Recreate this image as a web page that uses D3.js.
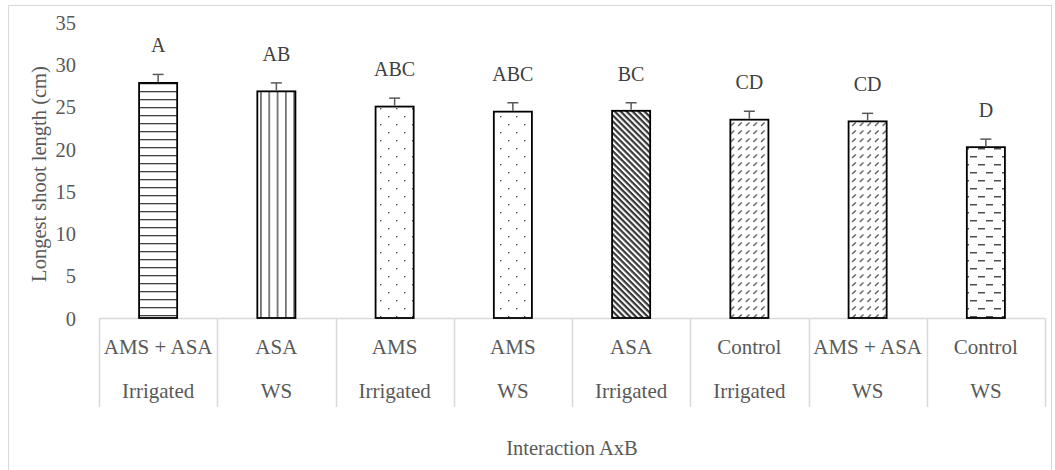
<!DOCTYPE html>
<html>
<head>
<meta charset="utf-8">
<script src="https://cdn.jsdelivr.net/npm/d3@7"></script>
<style>
  html, body { margin: 0; padding: 0; background: #fff; }
  svg { display: block; }
  svg text { font-family: "Liberation Serif", "Times New Roman", "DejaVu Serif", serif; }
</style>
</head>
<body>
<svg id="chart" width="1055" height="470"></svg>
<script>
// ---- data ----
const treatments = ["AMS + ASA", "ASA", "AMS", "AMS", "ASA", "Control", "AMS + ASA", "Control"];
const water = ["Irrigated", "WS", "Irrigated", "WS", "Irrigated", "Irrigated", "WS", "WS"];
const values = [27.8, 26.8, 25.0, 24.4, 24.5, 23.45, 23.25, 20.2];
const errors = [1.0, 1.0, 1.0, 1.05, 0.95, 1.0, 0.95, 0.95];
const letters = ["A", "AB", "ABC", "ABC", "BC", "CD", "CD", "D"];
const patterns = ["hlines", "vlines", "dots", "dots", "diag", "dashdiag", "dashdiag", "hdash"];
const yTicks = [0, 5, 10, 15, 20, 25, 30, 35];
const yTitle = "Longest shoot length (cm)";
const xTitle = "Interaction AxB";

(function () {
const svg = d3.select("#chart");
const pLeft = 99, pRight = 1045, pTop = 22, pBottom = 318;
const FONT = "'Liberation Serif', 'Times New Roman', 'DejaVu Serif', serif";

// outer chart border
svg.append("rect").attr("x", 8.5).attr("y", 5.5).attr("width", 1043).attr("height", 475)
  .attr("fill", "none").attr("stroke", "#d9d9d9").attr("stroke-width", 1);

// patterns
const defs = svg.append("defs");
const pc = "#404040";
{
  const p = defs.append("pattern").attr("id", "hlines").attr("patternUnits", "userSpaceOnUse")
    .attr("width", 8).attr("height", 8);
  p.append("rect").attr("x", 0).attr("y", 3).attr("width", 8).attr("height", 1.3).attr("fill", pc);
}
{
  const p = defs.append("pattern").attr("id", "vlines").attr("patternUnits", "userSpaceOnUse")
    .attr("width", 8.3).attr("height", 8);
  p.append("rect").attr("x", 3).attr("y", 0).attr("width", 1.3).attr("height", 8).attr("fill", pc);
}
{
  const p = defs.append("pattern").attr("id", "dots").attr("patternUnits", "userSpaceOnUse")
    .attr("width", 16).attr("height", 16);
  p.append("rect").attr("x", 4).attr("y", 4).attr("width", 1.4).attr("height", 1.4).attr("fill", "#505050");
  p.append("rect").attr("x", 12).attr("y", 12).attr("width", 1.4).attr("height", 1.4).attr("fill", "#505050");
}
{
  const p = defs.append("pattern").attr("id", "diag").attr("patternUnits", "userSpaceOnUse")
    .attr("width", 4.2).attr("height", 4.2).attr("patternTransform", "rotate(45)");
  p.append("rect").attr("x", 0).attr("y", 0).attr("width", 4.2).attr("height", 2.2).attr("fill", "#383838");
}
{
  const p = defs.append("pattern").attr("id", "dashdiag").attr("patternUnits", "userSpaceOnUse")
    .attr("width", 7.6).attr("height", 8);
  p.append("line").attr("x1", 1).attr("y1", 6).attr("x2", 4.5).attr("y2", 2.5)
    .attr("stroke", "#505050").attr("stroke-width", 1.2);
}
{
  const p = defs.append("pattern").attr("id", "hdash").attr("patternUnits", "userSpaceOnUse")
    .attr("width", 16).attr("height", 16);
  p.append("rect").attr("x", 2).attr("y", 4).attr("width", 7).attr("height", 1.5).attr("fill", "#505050");
  p.append("rect").attr("x", 10).attr("y", 12).attr("width", 7).attr("height", 1.5).attr("fill", "#505050");
  p.append("rect").attr("x", -6).attr("y", 12).attr("width", 7).attr("height", 1.5).attr("fill", "#505050");
}

// scales
const idx = d3.range(values.length);
const x = d3.scaleBand().domain(idx).range([pLeft, pRight]).padding(0);
const y = d3.scaleLinear().domain([0, 35]).range([pBottom, pTop]);
const barW = x.bandwidth() * 0.322;

// y axis labels (no line)
const yAxis = d3.axisLeft(y).tickValues(yTicks).tickSize(0).tickPadding(0);
const gy = svg.append("g").attr("transform", `translate(76,0)`).call(yAxis);
gy.attr("font-family", FONT).attr("font-size", 20.5);
gy.select(".domain").remove();
gy.selectAll("text").attr("fill", "#595959").attr("dy", "0.35em");

// category axis frame
const gridC = "#d9d9d9";
svg.append("line").attr("x1", pLeft).attr("x2", pRight).attr("y1", pBottom + 0.5).attr("y2", pBottom + 0.5)
  .attr("stroke", gridC).attr("stroke-width", 1.5);
const bounds = idx.map(i => x(i)).concat([pRight]);
svg.selectAll(".sep").data(bounds).enter().append("line")
  .attr("x1", d => Math.round(d) + 0.5).attr("x2", d => Math.round(d) + 0.5)
  .attr("y1", pBottom).attr("y2", 407).attr("stroke", gridC).attr("stroke-width", 1.5);

// category labels
const cx = i => x(i) + x.bandwidth() / 2;
svg.selectAll(".t1").data(idx).enter().append("text")
  .attr("x", cx).attr("y", 354).attr("text-anchor", "middle")
  .attr("font-size", 21).attr("fill", "#595959").text(i => treatments[i]);
svg.selectAll(".t2").data(idx).enter().append("text")
  .attr("x", cx).attr("y", 398).attr("text-anchor", "middle")
  .attr("font-size", 21).attr("fill", "#595959").text(i => water[i]);

// bars
svg.selectAll(".bar").data(idx).enter().append("rect")
  .attr("x", i => cx(i) - barW / 2).attr("width", barW)
  .attr("y", i => y(values[i])).attr("height", i => y(0) - y(values[i]))
  .attr("fill", i => `url(#${patterns[i]})`)
  .attr("stroke", "#000").attr("stroke-width", 1.8);

// error bars (upper only)
const eC = "#595959";
svg.selectAll(".err").data(idx).enter().append("line")
  .attr("x1", cx).attr("x2", cx)
  .attr("y1", i => y(values[i]) - 1).attr("y2", i => y(values[i] + errors[i]))
  .attr("stroke", eC).attr("stroke-width", 1.5);
svg.selectAll(".cap").data(idx).enter().append("line")
  .attr("x1", i => cx(i) - 5.5).attr("x2", i => cx(i) + 5.5)
  .attr("y1", i => y(values[i] + errors[i])).attr("y2", i => y(values[i] + errors[i]))
  .attr("stroke", eC).attr("stroke-width", 1.5);

// significance letters
svg.selectAll(".let").data(idx).enter().append("text")
  .attr("x", cx).attr("y", i => y(values[i] + errors[i]) - 22)
  .attr("text-anchor", "middle").attr("font-size", 20).attr("fill", "#404040")
  .text(i => letters[i]);

// axis titles
svg.append("text").attr("x", (pLeft + pRight) / 2).attr("y", 455).attr("text-anchor", "middle")
  .attr("font-size", 20.5).attr("fill", "#595959").text(xTitle);
svg.append("text").attr("transform", `translate(46,${(pTop + pBottom) / 2 + 4}) rotate(-90)`)
  .attr("text-anchor", "middle").attr("font-size", 20.5).attr("fill", "#595959").text(yTitle);

svg.selectAll("text").attr("font-family", FONT);
})();
</script>
</body>
</html>
